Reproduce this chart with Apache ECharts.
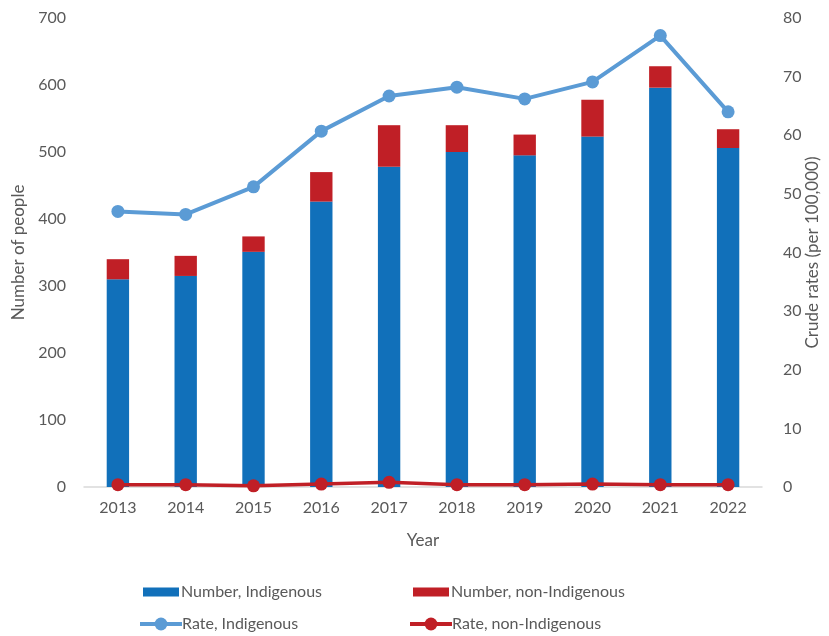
<!DOCTYPE html>
<html>
<head>
<meta charset="utf-8">
<script src="https://cdn.jsdelivr.net/npm/echarts@6/dist/echarts.min.js"></script>
<style>html,body{margin:0;padding:0;background:#fff}#c{width:829px;height:636px}</style>
</head>
<body>
<div id="c"></div>
<script>
var years = ['2013','2014','2015','2016','2017','2018','2019','2020','2021','2022'];
var numIndigenous = [310, 315, 351, 426, 478, 500, 495, 523, 596, 506];
var numNonIndigenous = [30, 30, 23, 44, 62, 40, 31, 55, 32, 28];
var rateIndigenous = [47.0, 46.5, 51.2, 60.7, 66.7, 68.2, 66.2, 69.1, 77.0, 64.0];
var rateNonIndigenous = [0.4, 0.4, 0.2, 0.5, 0.8, 0.4, 0.4, 0.5, 0.4, 0.4];
var leftTicks = [0, 700, 100];
var rightTicks = [0, 80, 10];

var FONT = 'Lato';
var GREY = '#595959';
var BLUE = '#1170ba';
var RED = '#c01f26';
var LBLUE = '#5b9bd5';

var chart = echarts.init(document.getElementById('c'));
function legend(name, left, top, w, h, lw, tp) {
  var l = {data:[name], left:left, top:top, itemWidth:w, itemHeight:h, itemGap:0, padding:0,
    textStyle:{fontFamily:FONT, fontSize:16, color:GREY, padding:[0,0,0,tp]}, selectedMode:false};
  if (lw) l.lineStyle = {width:lw};
  else l.icon = 'rect';
  return l;
}
chart.setOption({
  animation:false,
  textStyle:{fontFamily:FONT},
  grid:{left:84, right:67, top:18, bottom:149, containLabel:false, outerBoundsMode:'none'},
  legend:[
    legend('Number, Indigenous', 143, 584, 36, 9, 0, -3),
    legend('Number, non-Indigenous', 413, 584, 36, 9, 0, -3),
    legend('Rate, Indigenous', 138, 616, 42, 16, 4, -5),
    legend('Rate, non-Indigenous', 408, 616, 42, 16, 4, -5)
  ],
  xAxis:{type:'category', data:years,
    axisLine:{lineStyle:{color:'#d9d9d9', width:1.5}}, axisTick:{show:false},
    axisLabel:{color:GREY, fontSize:16, fontFamily:FONT, margin:13},
    name:'Year', nameLocation:'middle', nameGap:45,
    nameTextStyle:{color:GREY, fontSize:17, fontFamily:FONT}},
  yAxis:[
    {type:'value', min:leftTicks[0], max:leftTicks[1], interval:leftTicks[2],
     splitLine:{show:false}, axisLine:{show:false}, axisTick:{show:false},
     axisLabel:{color:GREY, fontSize:16, fontFamily:FONT, margin:18},
     name:'Number of people', nameLocation:'middle', nameGap:55, nameRotate:90,
     nameTextStyle:{color:GREY, fontSize:17, fontFamily:FONT}},
    {type:'value', min:rightTicks[0], max:rightTicks[1], interval:rightTicks[2],
     splitLine:{show:false}, axisLine:{show:false}, axisTick:{show:false},
     axisLabel:{color:GREY, fontSize:16, fontFamily:FONT, margin:21},
     name:'Crude rates (per 100,000)', nameLocation:'middle', nameGap:42, nameRotate:90,
     nameMoveOverlap:false,
     nameTextStyle:{color:GREY, fontSize:17, fontFamily:FONT}}
  ],
  series:[
    {name:'Number, Indigenous', type:'bar', stack:'n', data:numIndigenous, barWidth:'33%',
     itemStyle:{color:BLUE}},
    {name:'Number, non-Indigenous', type:'bar', stack:'n', data:numNonIndigenous, barWidth:'33%',
     itemStyle:{color:RED}},
    {name:'Rate, Indigenous', type:'line', yAxisIndex:1, data:rateIndigenous,
     symbol:'circle', symbolSize:13, lineStyle:{color:LBLUE, width:4}, itemStyle:{color:LBLUE}},
    {name:'Rate, non-Indigenous', type:'line', yAxisIndex:1, data:rateNonIndigenous,
     symbol:'circle', symbolSize:13, lineStyle:{color:RED, width:3.5}, itemStyle:{color:RED}}
  ]
});
</script>
</body>
</html>
